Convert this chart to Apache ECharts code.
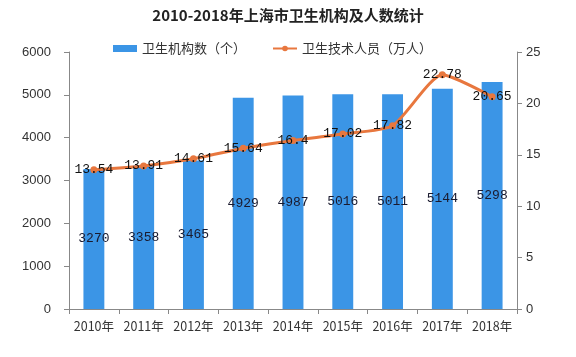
<!DOCTYPE html>
<html><head><meta charset="utf-8">
<script src="https://cdn.jsdelivr.net/npm/echarts@6/dist/echarts.min.js"></script>
<style>html,body{margin:0;padding:0;background:#fff}#c{width:576px;height:357px}</style>
</head><body><div id="c"></div>
<script>
const categories = ['2010年','2011年','2012年','2013年','2014年','2015年','2016年','2017年','2018年'];
const institutions = [3270, 3358, 3465, 4929, 4987, 5016, 5011, 5144, 5298];
const staff = [13.54, 13.91, 14.61, 15.64, 16.4, 17.02, 17.82, 22.78, 20.65];
const leftTicks = [0, 6000, 1000];
const rightTicks = [0, 25, 5];

const font = '"Liberation Mono", "Noto Sans CJK SC", monospace';
const chart = echarts.init(document.getElementById('c'));
chart.setOption({
  animation: false,
  title: {
    text: '2010-2018年上海市卫生机构及人数统计',
    left: 'center', top: 3,
    textStyle: { fontSize: 15, fontWeight: 'bold', color: '#222', fontFamily: '"Noto Sans CJK SC", serif' }
  },
  legend: {
    top: 37, left: 108, itemGap: 26, itemWidth: 24, itemHeight: 7,
    textStyle: { fontSize: 13, color: '#333', fontFamily: '"Noto Sans CJK SC", sans-serif' },
    data: [
      { name: '卫生机构数（个）', icon: 'rect' },
      { name: '卫生技术人员（万人）' }
    ]
  },
  grid: { left: 69, right: 59, top: 52, bottom: 48 },
  xAxis: {
    type: 'category', data: categories,
    axisLine: { lineStyle: { color: '#888' } },
    axisTick: { show: true, alignWithLabel: false, interval: 0, lineStyle: { color: '#888' } },
    axisLabel: { color: '#333', fontSize: 12.5, margin: 11, interval: 0, fontFamily: '"Noto Sans CJK SC", sans-serif' }
  },
  yAxis: [
    { type: 'value', min: leftTicks[0], max: leftTicks[1], interval: leftTicks[2],
      axisLine: { show: true, lineStyle: { color: '#888' } },
      axisTick: { show: true, lineStyle: { color: '#888' } },
      splitLine: { show: false },
      axisLabel: { color: '#333', fontSize: 13, margin: 18, formatter: v => String(v), fontFamily: '"Liberation Sans", sans-serif' } },
    { type: 'value', min: rightTicks[0], max: rightTicks[1], interval: rightTicks[2],
      axisLine: { show: true, lineStyle: { color: '#888' } },
      axisTick: { show: true, lineStyle: { color: '#888' } },
      splitLine: { show: false },
      axisLabel: { color: '#333', fontSize: 13, margin: 9, formatter: v => String(v), fontFamily: '"Liberation Sans", sans-serif' } }
  ],
  series: [
    { name: '卫生机构数（个）', type: 'bar', data: institutions, barWidth: '42%',
      itemStyle: { color: '#3b95e6' },
      label: { show: true, position: 'inside', color: '#1a1a2e', fontSize: 13, fontFamily: font } },
    { name: '卫生技术人员（万人）', type: 'line', yAxisIndex: 1, data: staff, smooth: 0.2,
      symbol: 'circle', symbolSize: 7,
      lineStyle: { color: '#e8773e', width: 3 }, itemStyle: { color: '#e8773e' },
      label: { show: true, position: 'inside', color: '#111', fontSize: 13, fontFamily: font },
      z: 5 }
  ]
});
</script></body></html>
